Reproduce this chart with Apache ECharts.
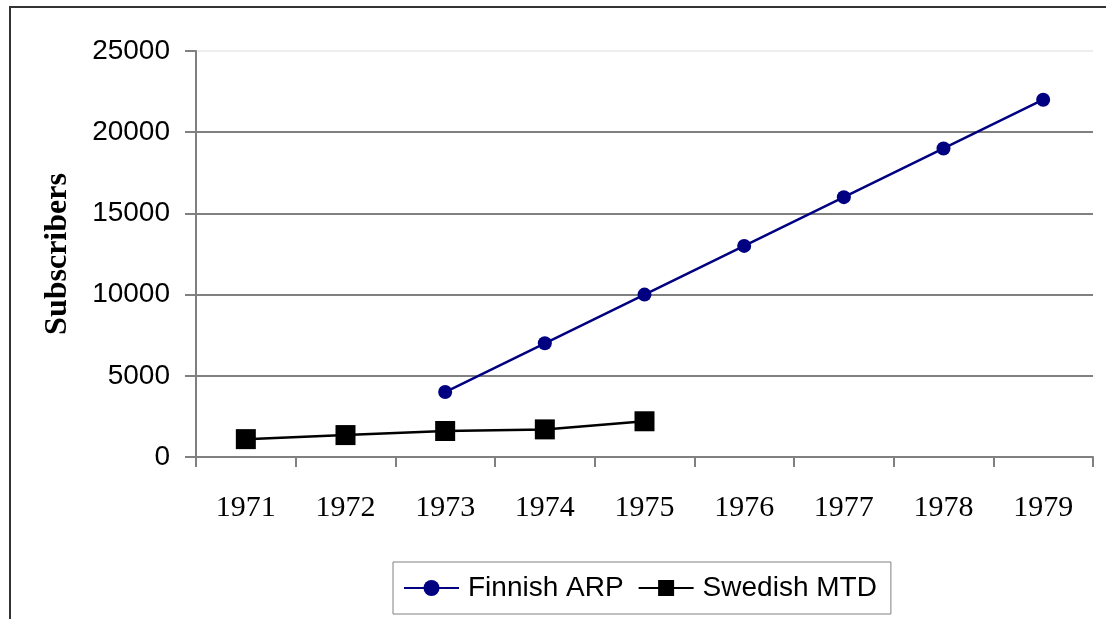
<!DOCTYPE html>
<html>
<head>
<meta charset="utf-8">
<script src="https://cdn.jsdelivr.net/npm/echarts@6/dist/echarts.min.js"></script>
<style>
html,body{margin:0;padding:0;background:#fff;}
#chart{width:1106px;height:619px;}
</style>
</head>
<body>
<div id="chart"></div>
<script>
const years = ['1971','1972','1973','1974','1975','1976','1977','1978','1979'];
const finnishARP = [null, null, 4000, 7000, 10000, 13000, 16000, 19000, 22000];
const swedishMTD = [1100, 1350, 1600, 1700, 2200, null, null, null, null];
const yTicks = [0, 5000, 10000, 15000, 20000, 25000];

const chart = echarts.init(document.getElementById('chart'));
chart.setOption({
  animation: false,
  backgroundColor: '#ffffff',
  grid: { left: 196, right: 13, top: 51, bottom: 162 },
  graphic: [{
    type: 'polyline',
    shape: { points: [[10, 619], [10, 7], [1106, 7]] },
    style: { stroke: '#333333', lineWidth: 2, fill: null }
  }],
  legend: {
    left: 393, top: 562,
    padding: [12, 14, 12, 10],
    borderColor: '#808080', borderWidth: 1,
    itemWidth: 55, itemHeight: 20, itemGap: 14,
    textStyle: { fontFamily: 'Liberation Sans', fontSize: 28, color: '#000', padding: [0, 0, 0, 4] },
    data: ['Finnish ARP', 'Swedish MTD']
  },
  xAxis: {
    type: 'category',
    data: years,
    boundaryGap: true,
    axisLine: { lineStyle: { color: '#808080', width: 2 } },
    axisTick: { show: true, length: 10, alignWithLabel: false, lineStyle: { color: '#808080', width: 2 } },
    axisLabel: { margin: 36, fontFamily: 'Liberation Serif', fontSize: 30, color: '#000' },
    splitLine: { show: false }
  },
  yAxis: {
    type: 'value',
    min: 0, max: 25000, interval: 5000,
    name: 'Subscribers',
    nameLocation: 'middle',
    nameGap: 122,
    nameTextStyle: { fontFamily: 'Liberation Serif', fontWeight: 'bold', fontSize: 32, color: '#000' },
    axisLine: { show: true, lineStyle: { color: '#808080', width: 2 } },
    axisTick: { show: true, length: 11, lineStyle: { color: '#808080', width: 2 } },
    axisLabel: {
      margin: 26, fontFamily: 'Liberation Sans', fontSize: 28, color: '#000',
      formatter: function (v) { return yTicks.indexOf(v) >= 0 ? String(v) : ''; }
    },
    splitLine: { show: true, lineStyle: { color: ['#808080','#808080','#808080','#808080','#808080','#eeeeee'], width: 2 } }
  },
  series: [{
    name: 'Finnish ARP',
    type: 'line',
    data: finnishARP,
    symbol: 'circle', symbolSize: 14,
    itemStyle: { color: '#000080' },
    lineStyle: { color: '#000080', width: 2.5 }
  }, {
    name: 'Swedish MTD',
    type: 'line',
    data: swedishMTD,
    symbol: 'rect', symbolSize: 20,
    itemStyle: { color: '#000000' },
    lineStyle: { color: '#000000', width: 2.5 }
  }]
});
</script>
</body>
</html>
